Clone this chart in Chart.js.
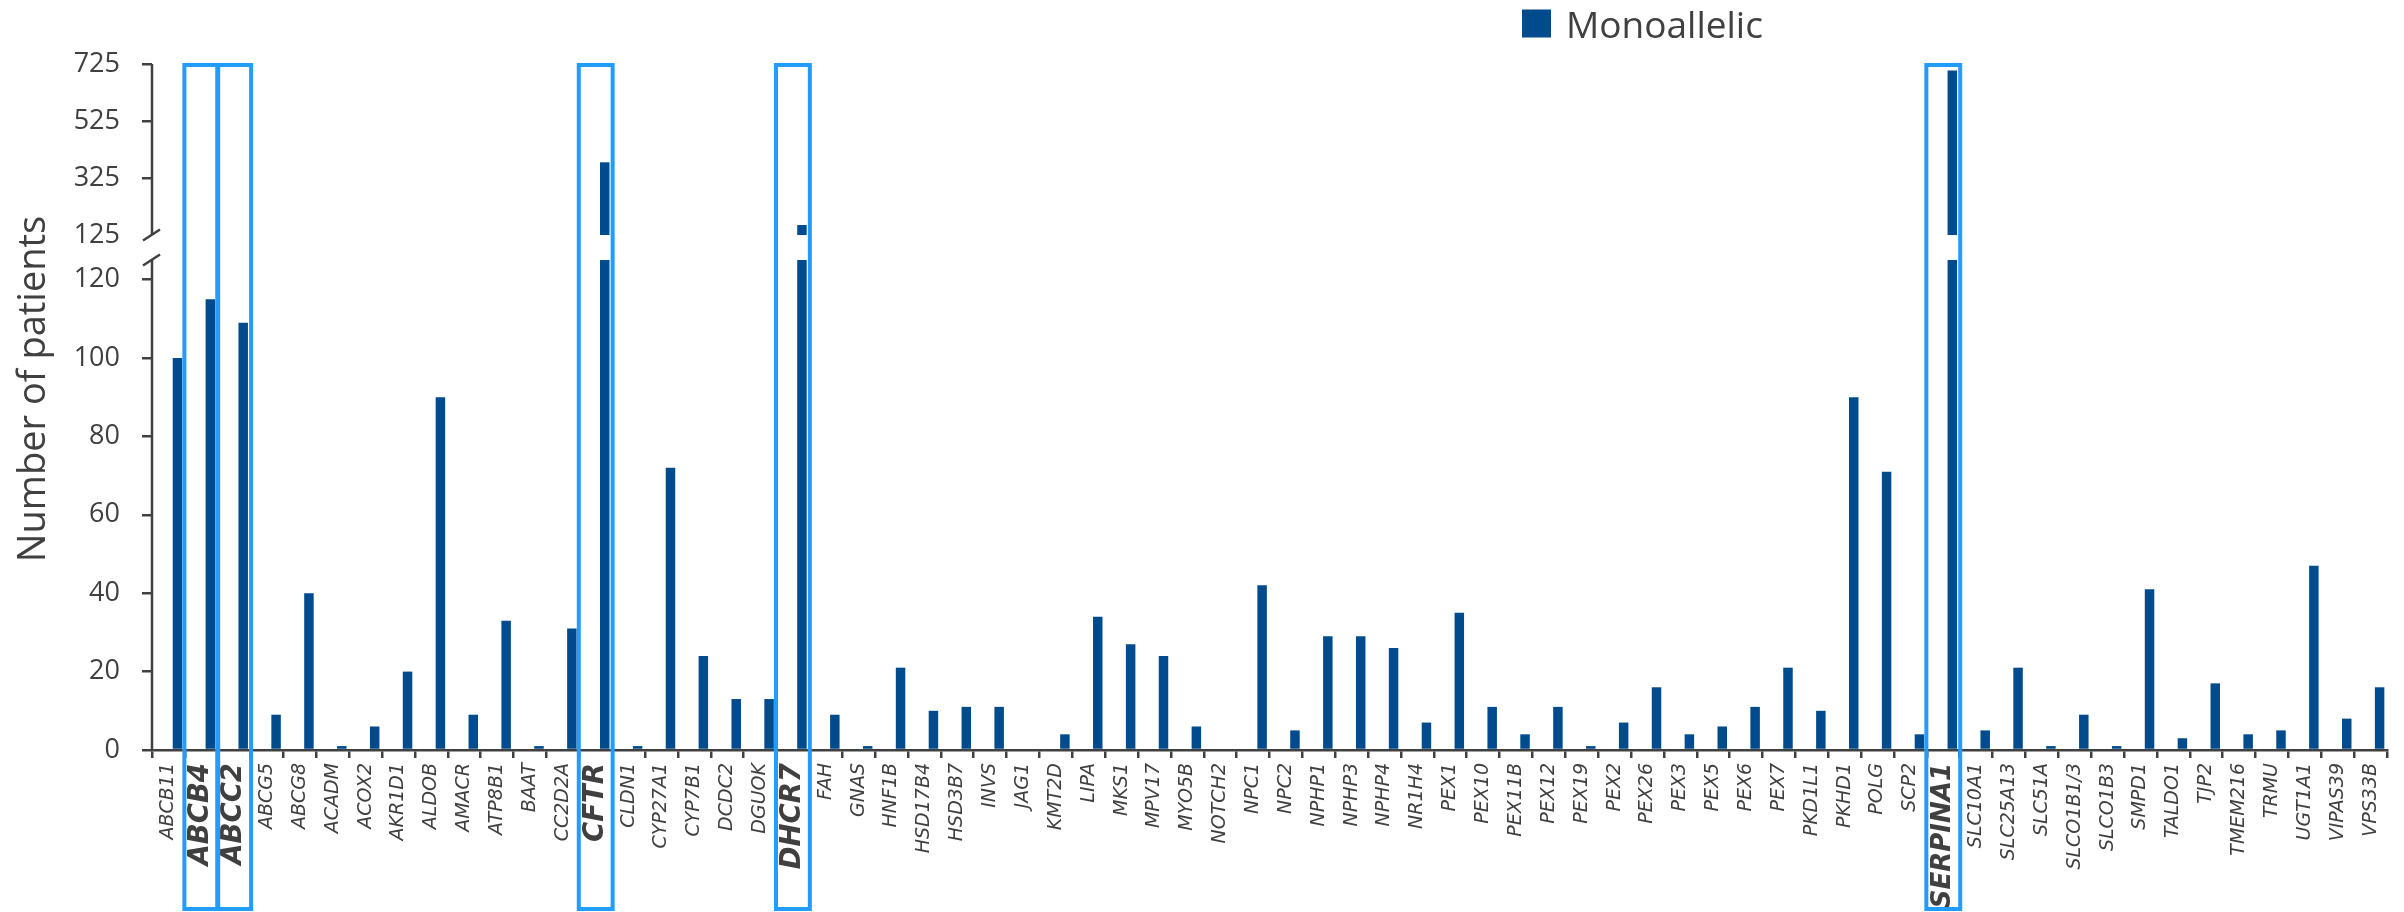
<!DOCTYPE html>
<html><head><meta charset="utf-8">
<script src="https://cdn.jsdelivr.net/npm/chart.js@4/dist/chart.umd.min.js"></script>
<style>html,body{margin:0;padding:0;background:#fff;overflow:hidden}#wrap{width:2404px;height:912px}</style>
</head><body><div id="wrap"><canvas id="c" width="2404" height="912"></canvas></div>
<script>
const genes = ['ABCB11','ABCB4','ABCC2','ABCG5','ABCG8','ACADM','ACOX2','AKR1D1','ALDOB','AMACR','ATP8B1','BAAT','CC2D2A','CFTR','CLDN1','CYP27A1','CYP7B1','DCDC2','DGUOK','DHCR7','FAH','GNAS','HNF1B','HSD17B4','HSD3B7','INVS','JAG1','KMT2D','LIPA','MKS1','MPV17','MYO5B','NOTCH2','NPC1','NPC2','NPHP1','NPHP3','NPHP4','NR1H4','PEX1','PEX10','PEX11B','PEX12','PEX19','PEX2','PEX26','PEX3','PEX5','PEX6','PEX7','PKD1L1','PKHD1','POLG','SCP2','SERPINA1','SLC10A1','SLC25A13','SLC51A','SLCO1B1/3','SLCO1B3','SMPD1','TALDO1','TJP2','TMEM216','TRMU','UGT1A1','VIPAS39','VPS33B'];
const monoallelic = [100,115,109,9,40,1,6,20,90,9,33,1,31,380,1,72,24,13,13,160,9,1,21,10,11,11,0,4,34,27,24,6,0,42,5,29,29,26,7,35,11,4,11,1,7,16,4,6,11,21,10,90,71,4,702,5,21,1,9,1,41,3,17,4,5,47,8,16];
const highlighted = ['ABCB4','ABCC2','CFTR','DHCR7','SERPINA1'];
const lowerTicks = [0,20,40,60,80,100,120];
const upperTicks = [125,325,525,725];
const breakValue = 125;
const seriesName = 'Monoallelic';
const axisTitle = 'Number of patients';

const BAR = '#004B8D';
const BOX = '#229CFF';
const INK = '#404040';
const NUMFONT = '"Open Sans", "Liberation Sans", sans-serif';

const overlay = {
  id: 'overlay',
  afterDraw(chart) {
    const ctx = chart.ctx;
    const x = chart.scales.x, lo = chart.scales.yLow, hi = chart.scales.yHigh;
    const ax = chart.chartArea.left;
    ctx.save();
    ctx.strokeStyle = INK; ctx.lineWidth = 2.5; ctx.lineCap = 'butt';
    ctx.beginPath();
    ctx.moveTo(ax, hi.getPixelForValue(upperTicks[upperTicks.length-1]));
    ctx.lineTo(ax, hi.getPixelForValue(breakValue));
    ctx.moveTo(ax, lo.getPixelForValue(0));
    ctx.lineTo(ax, lo.getPixelForValue(breakValue));
    ctx.stroke();
    [hi.getPixelForValue(breakValue), lo.getPixelForValue(breakValue)].forEach(y => {
      ctx.beginPath();
      ctx.moveTo(ax - 9, y + 5.5);
      ctx.lineTo(ax + 8, y - 5.5);
      ctx.stroke();
    });
    const W = x.width / genes.length;
    ctx.strokeStyle = BOX; ctx.lineWidth = 4;
    highlighted.forEach(g => {
      const i = genes.indexOf(g);
      const cx = x.getPixelForValue(i);
      const top = hi.getPixelForValue(upperTicks[upperTicks.length-1]) + 1;
      ctx.strokeRect(cx - W/2 - 0.5, top, W + 1, 909 - top);
    });
    ctx.fillStyle = BAR;
    ctx.fillRect(1522, 9.5, 29, 28);
    ctx.fillStyle = INK;
    ctx.font = '37px ' + NUMFONT;
    ctx.textBaseline = 'alphabetic'; ctx.textAlign = 'left';
    ctx.fillText(seriesName, 1566, 37.5);
    ctx.translate(34, 389);
    ctx.rotate(-Math.PI/2);
    ctx.textAlign = 'center'; ctx.textBaseline = 'middle';
    ctx.font = '38px ' + NUMFONT;
    ctx.fillText(axisTitle, 0, 0);
    ctx.restore();
  }
};

const barOpts = {categoryPercentage: 1.1, barPercentage: 0.525};

new Chart(document.getElementById('c'), {
  type: 'bar',
  data: {
    labels: genes,
    datasets: [
      Object.assign({label: '_slot', data: genes.map(() => null), stack: 'pad', yAxisID: 'yLow', backgroundColor: 'rgba(0,0,0,0)'}, barOpts),
      Object.assign({label: seriesName, data: monoallelic.map(v => Math.min(v, breakValue)), stack: 'mono', yAxisID: 'yLow', backgroundColor: BAR}, barOpts),
      Object.assign({label: seriesName + ' ', data: monoallelic.map(v => v > breakValue ? [breakValue, v] : null), stack: 'mono', yAxisID: 'yHigh', backgroundColor: BAR}, barOpts)
    ]
  },
  options: {
    responsive: false,
    animation: false,
    devicePixelRatio: 1,
    layout: {padding: {top: 64, right: 17, bottom: 0, left: 0}},
    plugins: {legend: {display: false}, tooltip: {enabled: false}, title: {display: false}},
    scales: {
      x: {
        type: 'category', offset: true,
        grid: {offset: true, drawOnChartArea: false, drawTicks: true, tickLength: 8, color: INK, lineWidth: 2.5},
        border: {display: true, color: INK, width: 2.5},
        ticks: {
          autoSkip: false, minRotation: 90, maxRotation: 90, padding: 5, color: INK,
          font: (c) => {
            const g = genes[c.index];
            if (!highlighted.includes(g)) return {family: '"DejaVu Sans"', size: 19, style: 'italic', weight: 'normal'};
            return {family: '"DejaVu Sans"', size: g.length > 6 ? 26 : 27.5, style: 'italic', weight: 'bold'};
          }
        },
        afterFit: (s) => { s.height = 162; }
      },
      yLow: {
        type: 'linear', position: 'left', stack: 'v', stackWeight: 515, stacked: false,
        min: 0, max: 131.38,
        afterBuildTicks: (s) => { s.ticks = lowerTicks.map(v => ({value: v})); },
        grid: {drawOnChartArea: false, tickLength: 10, color: INK, lineWidth: 2.5},
        border: {display: false},
        ticks: {autoSkip: false, padding: 22, color: INK, font: {family: NUMFONT, size: 27}},
        afterFit: (s) => { s.width = 152; }
      },
      yHigh: {
        type: 'linear', position: 'left', stack: 'v', stackWeight: 171, stacked: false,
        min: 125, max: 725,
        afterBuildTicks: (s) => { s.ticks = upperTicks.map(v => ({value: v})); },
        grid: {drawOnChartArea: false, tickLength: 10, lineWidth: 2.5,
               color: (c) => (c.tick && c.tick.value === breakValue) ? 'rgba(0,0,0,0)' : INK},
        border: {display: false},
        ticks: {autoSkip: false, padding: 22, color: INK, font: {family: NUMFONT, size: 27}},
        afterFit: (s) => { s.width = 152; }
      }
    }
  },
  plugins: [overlay]
});
</script>
</body></html>
